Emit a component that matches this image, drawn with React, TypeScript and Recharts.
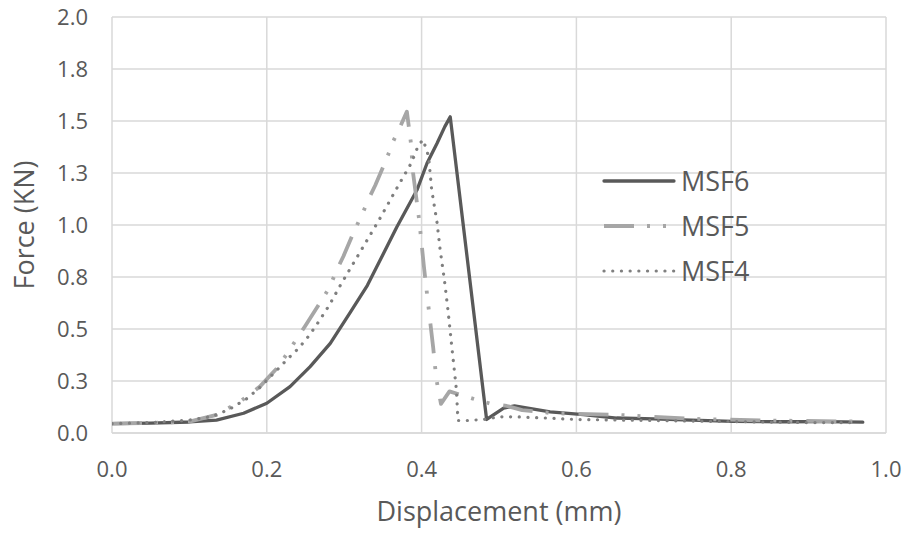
import React from "react";
import { LineChart, Line, XAxis, YAxis, CartesianGrid, Legend, Label } from "recharts";

const FONT = "'Open Sans', 'Noto Sans', sans-serif";
const TEXT = "#595959";
const GRID = "#d9d9d9";

// MSF6 (solid)
const msf6X = [0, 0.05, 0.1, 0.135, 0.17, 0.2, 0.23, 0.256, 0.282, 0.307, 0.33, 0.368, 0.394, 0.407, 0.42, 0.43, 0.437, 0.484, 0.506, 0.52, 0.566, 0.609, 0.652, 0.7, 0.738, 0.802, 0.867, 0.92, 0.97];
const msf6Y = [0.045, 0.047, 0.053, 0.062, 0.095, 0.143, 0.223, 0.319, 0.431, 0.575, 0.71, 0.99, 1.168, 1.297, 1.393, 1.473, 1.52, 0.065, 0.12, 0.13, 0.102, 0.088, 0.072, 0.068, 0.063, 0.056, 0.054, 0.055, 0.052];

// MSF5 (long dash dot dot)
const msf5X = [0, 0.05, 0.1, 0.135, 0.165, 0.191, 0.215, 0.249, 0.271, 0.281, 0.29, 0.299, 0.314, 0.323, 0.331, 0.34, 0.355, 0.363, 0.372, 0.381, 0.386, 0.389, 0.397, 0.403, 0.41, 0.415, 0.419, 0.425, 0.436, 0.471, 0.49, 0.51, 0.53, 0.57, 0.65, 0.75, 0.85, 0.964];
const msf5Y = [0.045, 0.048, 0.055, 0.087, 0.15, 0.223, 0.319, 0.511, 0.639, 0.7, 0.78, 0.85, 0.98, 1.05, 1.12, 1.19, 1.32, 1.4, 1.47, 1.545, 1.4, 1.25, 1.02, 0.8, 0.57, 0.41, 0.26, 0.14, 0.2, 0.16, 0.14, 0.13, 0.11, 0.095, 0.088, 0.068, 0.06, 0.055];

// MSF4 (round dots)
const msf4X = [0, 0.05, 0.1, 0.13, 0.152, 0.174, 0.19, 0.215, 0.228, 0.241, 0.255, 0.267, 0.28, 0.295, 0.317, 0.345, 0.371, 0.387, 0.396, 0.402, 0.409, 0.413, 0.42, 0.424, 0.43, 0.4345, 0.439, 0.445, 0.447, 0.46, 0.48, 0.5, 0.52, 0.56, 0.6, 0.7, 0.8, 0.9, 0.955];
const msf4Y = [0.045, 0.05, 0.062, 0.08, 0.115, 0.165, 0.215, 0.31, 0.36, 0.407, 0.47, 0.535, 0.61, 0.71, 0.848, 1.024, 1.197, 1.3, 1.385, 1.41, 1.33, 1.17, 1.01, 0.88, 0.72, 0.575, 0.415, 0.207, 0.06, 0.06, 0.065, 0.078, 0.078, 0.072, 0.065, 0.06, 0.055, 0.05, 0.05];

const xTicks = [0, 0.2, 0.4, 0.6, 0.8, 1.0];
const yTicks = [0, 0.25, 0.5, 0.75, 1, 1.25, 1.5, 1.75, 2];

const toPoints = (xs: number[], ys: number[]) => xs.map((x, i) => ({ x, y: ys[i] }));

const series = [
  { name: "MSF6", data: toPoints(msf6X, msf6Y), color: "#595959", width: 3.3, dash: undefined, cap: "round" },
  { name: "MSF5", data: toPoints(msf5X, msf5Y), color: "#a6a6a6", width: 3.8, dash: "30 13 3 13 3 14", cap: "butt" },
  { name: "MSF4", data: toPoints(msf4X, msf4Y), color: "#7f7f7f", width: 3.2, dash: "0.1 8.6", cap: "round" },
];

const renderLegend = () => (
  <div>
    {series.map((s) => (
      <div key={s.name} style={{ display: "flex", alignItems: "center", height: 45 }}>
        <svg width={74} height={20}>
          <line x1={2} y1={10} x2={72} y2={10} stroke={s.color} strokeWidth={s.width}
            strokeDasharray={s.dash} strokeLinecap={s.cap as any} />
        </svg>
        <span style={{ fontFamily: FONT, fontSize: 27, color: TEXT, marginLeft: 5, lineHeight: 1 }}>{s.name}</span>
      </div>
    ))}
  </div>
);

const renderYTitle = (props: any) => {
  const vb = props.viewBox;
  const cx = 34;
  const cy = vb.y + vb.height / 2;
  return (
    <text x={cx} y={cy} transform={`rotate(-90 ${cx} ${cy})`} textAnchor="middle"
      fill={TEXT} fontSize={27} fontFamily={FONT}>Force (KN)</text>
  );
};

const renderXTitle = (props: any) => {
  const vb = props.viewBox;
  return (
    <text x={vb.x + vb.width / 2} y={vb.y + 88} textAnchor="middle"
      fill={TEXT} fontSize={27} fontFamily={FONT}>Displacement (mm)</text>
  );
};

export default function App() {
  return (
    <div style={{ position: "absolute", left: 0, top: 0, background: "#fff" }}>
      <LineChart width={909} height={535} margin={{ top: 17, right: 23, left: 0, bottom: 0 }}>
        <CartesianGrid stroke={GRID} strokeWidth={1.5} />
        <XAxis dataKey="x" type="number" domain={[0, 1]} ticks={xTicks} allowDataOverflow
          tickFormatter={(v: number) => v.toFixed(1)} height={102}
          tickLine={false} tickSize={0} tickMargin={28} axisLine={{ stroke: GRID, strokeWidth: 1.5 }}
          tick={{ fill: TEXT, fontSize: 22, fontFamily: FONT }}>
          <Label content={renderXTitle} />
        </XAxis>
        <YAxis dataKey="y" type="number" domain={[0, 2]} ticks={yTicks} allowDataOverflow
          tickFormatter={(v: number) => v.toFixed(1)} width={112}
          tickLine={false} tickSize={0} tickMargin={24} axisLine={false}
          tick={{ fill: TEXT, fontSize: 22, fontFamily: FONT }}>
          <Label content={renderYTitle} />
        </YAxis>
        <Legend layout="vertical" align="center" verticalAlign="middle" content={renderLegend}
          wrapperStyle={{ position: "absolute", left: 602, top: 158, width: 200 }} />
        {series.map((s) => (
          <Line key={s.name} name={s.name} data={s.data} dataKey="y" type="linear"
            stroke={s.color} strokeWidth={s.width} strokeDasharray={s.dash}
            strokeLinecap={s.cap as any} strokeLinejoin="round"
            dot={false} activeDot={false} isAnimationActive={false} />
        ))}
      </LineChart>
    </div>
  );
}
